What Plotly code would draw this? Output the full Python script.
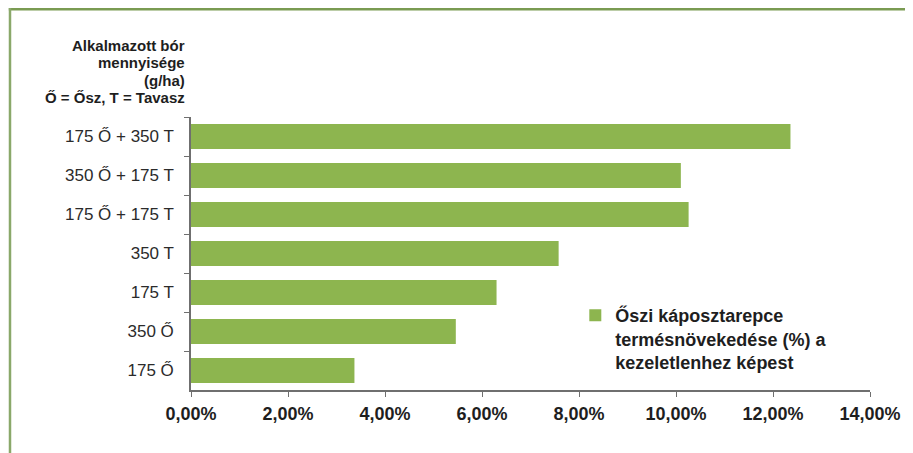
import plotly.graph_objects as go

# categories top to bottom, values as fractions
categories = ["175 Ő + 350 T", "350 Ő + 175 T", "175 Ő + 175 T",
              "350 T", "175 T", "350 Ő", "175 Ő"]
values = [0.1236, 0.1010, 0.1026, 0.0758, 0.0630, 0.0546, 0.0337]
x_ticks = [0, 0.02, 0.04, 0.06, 0.08, 0.10, 0.12, 0.14]

series_name = "<b>Őszi káposztarepce<br>termésnövekedése (%) a<br>kezeletlenhez képest</b>"
axis_note = ["Alkalmazott bór", "mennyisége", "(g/ha)", "Ő = Ősz, T = Tavasz"]

# page body has an 8px margin, so work in figure pixels = screen - 8
OFF = 8
W, H = 913 - OFF, 453 - OFF
ml, mr, mt, mb = 191 - OFF, 40, 117 - OFF, 63
pw, ph = W - ml - mr, H - mt - mb


def px_x(p):
    # p given in screen pixels
    return (p - OFF - ml) / pw


def px_y(p):
    return (H - mb - (p - OFF)) / ph


fig = go.Figure(
    go.Bar(
        x=values,
        y=categories,
        orientation="h",
        name=series_name,
        marker=dict(color="#8db54f", line=dict(width=0)),
        showlegend=True,
    )
)

fig.update_yaxes(
    type="category",
    autorange="reversed",
    tickson="boundaries",
    ticks="outside",
    ticklen=5,
    tickcolor="#6f6f6f",
    showline=True,
    linecolor="#6f6f6f",
    linewidth=1.5,
    showgrid=False,
    ticklabelstandoff=12,
    tickfont=dict(family="Liberation Sans, Arial", size=17, color="#2b2b2b"),
)
fig.update_xaxes(
    range=[0, 0.14],
    tickvals=x_ticks,
    tickformat=".2%",
    ticks="outside",
    ticklen=5,
    tickcolor="#6f6f6f",
    showline=True,
    linecolor="#6f6f6f",
    linewidth=1.5,
    showgrid=False,
    zeroline=False,
    ticklabelstandoff=2,
    tickfont=dict(family="Liberation Sans, Arial", size=18,
                  color="#1e1e1e", weight="bold"),
)

# frame lines (top and left) in green
fig.add_shape(type="line", xref="paper", yref="paper",
              x0=px_x(8), x1=px_x(W + 20), y0=px_y(9.2), y1=px_y(9.2),
              line=dict(color="#7a9b52", width=2.5))
fig.add_shape(type="line", xref="paper", yref="paper",
              x0=px_x(9.2), x1=px_x(9.2), y0=px_y(8), y1=px_y(H + 20),
              line=dict(color="#8aa86a", width=2.5))

# axis note, one line per annotation to keep the tight line spacing
for i, line in enumerate(axis_note):
    fig.add_annotation(
        text=f"<b>{line}</b>", xref="paper", yref="paper",
        x=px_x(187), y=px_y(45 + i * 17.5), xanchor="right", yanchor="middle",
        showarrow=False,
        font=dict(family="Liberation Sans, Arial", size=15, color="#1e1e1e"),
    )

fig.update_layout(
    width=W,
    height=H,
    margin=dict(l=ml, r=mr, t=mt, b=mb),
    paper_bgcolor="white",
    plot_bgcolor="white",
    separators=", ",
    bargap=0.36,
    legend=dict(
        x=px_x(577), y=px_y(297), xanchor="left", yanchor="top",
        itemwidth=30, valign="top", bgcolor="rgba(0,0,0,0)",
        font=dict(family="Liberation Sans, Arial", size=18, color="#1e1e1e"),
    ),
)

fig.write_html("out.html")
